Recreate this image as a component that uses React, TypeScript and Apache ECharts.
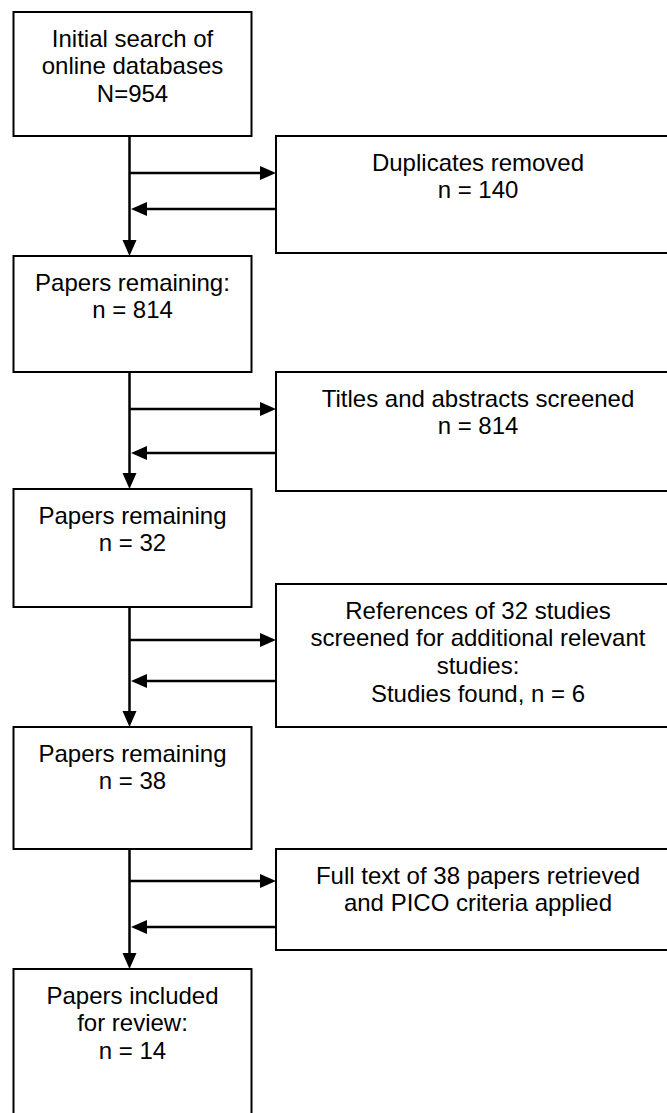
import React, { useEffect, useRef } from "react";
import * as echarts from "echarts";

// ---- content (data) ----
const mainSteps = [
  "Initial search of\nonline databases",
  "Papers remaining:",
  "Papers remaining",
  "Papers remaining",
  "Papers included\nfor review:",
];
const mainCountPrefix = ["N=", "n = ", "n = ", "n = ", "n = "];
const mainCounts = [954, 814, 32, 38, 14];

const sideSteps = [
  "Duplicates removed",
  "Titles and abstracts screened",
  "References of 32 studies\nscreened for additional relevant\nstudies:\nStudies found, n = 6",
  "Full text of 38 papers retrieved\nand PICO criteria applied",
];
const sideCounts: (number | null)[] = [140, 814, null, null];

// ---- layout ----
const W = 667;
const H = 1113;
const LEFT_X = 13.5;
const LEFT_W = 238;
const RIGHT_X = 276;
const RIGHT_W = 404;
const SPINE_X = 129.5;
const mainTops = [12, 256, 489, 727, 969];
const mainBottoms = [136, 372, 607, 849, 1140];
const sideTops = [136, 372, 584, 849];
const sideBottoms = [253, 491, 727, 950];
const outArrowY = [173, 409, 640, 881];
const backArrowY = [209, 453, 681, 927];
const FIRST_LINE = 26;
const LINE_GAP = 27.7;
const FONT = "Liberation Sans, Arial, Helvetica, sans-serif";
const FONT_SIZE = 24;
const HEAD_L = 16;
const HEAD_HW = 7;

function textLines(lines: string[], cx: number, top: number) {
  return lines.map((t, k) => ({
    type: "text",
    silent: true,
    style: {
      text: t,
      x: cx,
      y: top + FIRST_LINE + k * LINE_GAP,
      align: "center",
      verticalAlign: "middle",
      fill: "#000",
      fontSize: FONT_SIZE,
      fontFamily: FONT,
    },
  }));
}

function buildGraphics() {
  const els: any[] = [];
  const lineStyle = { stroke: "#000", lineWidth: 2.5 };
  const boxStyle = { fill: "#fff", stroke: "#000", lineWidth: 2 };

  // spine segments with down arrows
  for (let i = 0; i < mainTops.length - 1; i++) {
    const y1 = mainBottoms[i];
    const y2 = mainTops[i + 1];
    els.push({
      type: "line",
      shape: { x1: SPINE_X, y1, x2: SPINE_X, y2: y2 - HEAD_L + 2 },
      style: lineStyle,
    });
    els.push({
      type: "polygon",
      shape: {
        points: [
          [SPINE_X, y2],
          [SPINE_X - HEAD_HW, y2 - HEAD_L],
          [SPINE_X + HEAD_HW, y2 - HEAD_L],
        ],
      },
      style: { fill: "#000" },
    });
  }

  // side arrows
  for (let i = 0; i < outArrowY.length; i++) {
    const yo = outArrowY[i];
    els.push({
      type: "line",
      shape: { x1: SPINE_X, y1: yo, x2: RIGHT_X - HEAD_L + 2, y2: yo },
      style: lineStyle,
    });
    els.push({
      type: "polygon",
      shape: {
        points: [
          [RIGHT_X, yo],
          [RIGHT_X - HEAD_L, yo - HEAD_HW],
          [RIGHT_X - HEAD_L, yo + HEAD_HW],
        ],
      },
      style: { fill: "#000" },
    });
    const yb = backArrowY[i];
    const tip = SPINE_X + 1.5;
    els.push({
      type: "line",
      shape: { x1: RIGHT_X, y1: yb, x2: tip + HEAD_L - 2, y2: yb },
      style: lineStyle,
    });
    els.push({
      type: "polygon",
      shape: {
        points: [
          [tip, yb],
          [tip + HEAD_L, yb - HEAD_HW],
          [tip + HEAD_L, yb + HEAD_HW],
        ],
      },
      style: { fill: "#000" },
    });
  }

  // main boxes
  mainSteps.forEach((s, i) => {
    els.push({
      type: "rect",
      shape: { x: LEFT_X, y: mainTops[i], width: LEFT_W, height: mainBottoms[i] - mainTops[i] },
      style: boxStyle,
    });
    const lines = s.split("\n").concat([mainCountPrefix[i] + mainCounts[i]]);
    els.push(...textLines(lines, LEFT_X + LEFT_W / 2, mainTops[i]));
  });

  // side boxes
  sideSteps.forEach((s, i) => {
    els.push({
      type: "rect",
      shape: { x: RIGHT_X, y: sideTops[i], width: RIGHT_W, height: sideBottoms[i] - sideTops[i] },
      style: boxStyle,
    });
    const lines = s.split("\n");
    if (sideCounts[i] !== null) lines.push("n = " + sideCounts[i]);
    els.push(...textLines(lines, RIGHT_X + RIGHT_W / 2, sideTops[i]));
  });

  return els;
}

export default function App() {
  const ref = useRef<HTMLDivElement>(null);
  useEffect(() => {
    if (!ref.current) return;
    const chart = echarts.init(ref.current, null, { renderer: "svg" });
    chart.setOption({
      animation: false,
      backgroundColor: "#fff",
      graphic: { elements: buildGraphics() },
    });
    return () => chart.dispose();
  }, []);
  return (
    <div
      ref={ref}
      style={{ position: "absolute", left: 0, top: 0, width: W, height: H, background: "#fff" }}
    />
  );
}
